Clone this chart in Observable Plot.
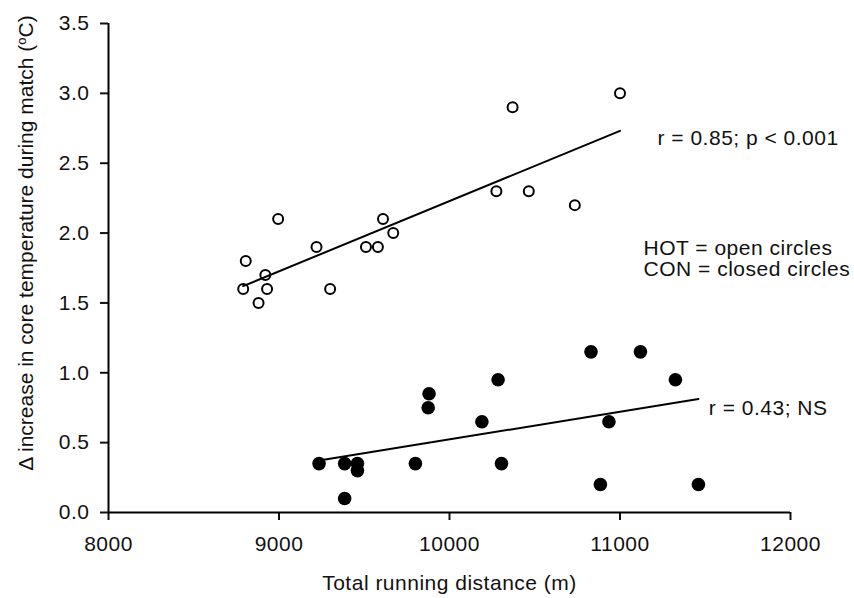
<!DOCTYPE html>
<html>
<head>
<meta charset="utf-8">
<script src="https://cdn.jsdelivr.net/npm/d3@7"></script>
<script src="https://cdn.jsdelivr.net/npm/@observablehq/plot@0.6"></script>
<style>
  html, body { margin: 0; padding: 0; background: #fff; }
  #chart svg text { letter-spacing: 0.5px; }
  #chart svg g[aria-label$="tick"] path, #chart svg .tick line { stroke-width: 2px; }
</style>
</head>
<body>
<div id="chart"></div>
<script>
// HOT condition (open circles)
const hotDistance = [11000, 10370, 10275, 10465, 10735, 8995, 9610, 9670, 9220, 9510, 9580, 8805, 8920, 8790, 8930, 9300, 8880];
const hotTemp     = [3.0, 2.9, 2.3, 2.3, 2.2, 2.1, 2.1, 2.0, 1.9, 1.9, 1.9, 1.8, 1.7, 1.6, 1.6, 1.6, 1.5];
// CON condition (closed circles)
const conDistance = [9235, 9385, 9460, 9460, 9385, 9800, 9880, 9875, 10190, 10285, 10305, 10830, 11120, 11325, 10935, 10885, 11460];
const conTemp     = [0.35, 0.35, 0.35, 0.3, 0.1, 0.35, 0.85, 0.75, 0.65, 0.95, 0.35, 1.15, 1.15, 0.95, 0.65, 0.2, 0.2];

const xTicks = [8000, 9000, 10000, 11000, 12000];
const yTicks = [0, 0.5, 1.0, 1.5, 2.0, 2.5, 3.0, 3.5];

const xLabel = "Total running distance (m)";
const yLabel = "Δ increase in core temperature during match (°C)";
const hotStat = "r = 0.85; p < 0.001";
const conStat = "r = 0.43; NS";
const legendLines = ["HOT = open circles", "CON = closed circles"];

const hot = hotDistance.map((d, i) => ({distance: d, temp: hotTemp[i]}));
const con = conDistance.map((d, i) => ({distance: d, temp: conTemp[i]}));

const plot = Plot.plot({
  width: 854,
  height: 598,
  marginLeft: 108,
  marginRight: 64,
  marginTop: 23,
  marginBottom: 86,
  style: {fontFamily: "'Liberation Sans', Arial, sans-serif", fontSize: "21px", color: "#111", background: "#fff"},
  x: {domain: [8000, 12000], ticks: xTicks, tickSize: 8, tickPadding: 16, tickFormat: d => String(d), label: null},
  y: {domain: [0, 3.5], ticks: yTicks, tickSize: 8, tickPadding: 11, tickFormat: d => d.toFixed(1), label: null},
  marks: [
    Plot.ruleX([8000], {stroke: "#000", strokeWidth: 2}),
    Plot.ruleY([0], {stroke: "#000", strokeWidth: 2}),
    Plot.linearRegressionY(hot, {x: "distance", y: "temp", ci: 0, stroke: "#000", strokeWidth: 2}),
    Plot.linearRegressionY(con, {x: "distance", y: "temp", ci: 0, stroke: "#000", strokeWidth: 2}),
    Plot.dot(hot, {x: "distance", y: "temp", r: 5, stroke: "#000", strokeWidth: 2, fill: "none"}),
    Plot.dot(con, {x: "distance", y: "temp", r: 6.8, fill: "#000", stroke: "none"}),
    Plot.text([hotStat], {x: () => 11220, y: () => 2.677, text: d => d, textAnchor: "start", lineAnchor: "middle", fill: "#111"}),
    Plot.text([legendLines.join("\n")], {x: () => 11138, y: () => 1.816, text: d => d, textAnchor: "start", lineAnchor: "middle", lineHeight: 1.0, fill: "#111"}),
    Plot.text([conStat], {x: () => 11521, y: () => 0.748, text: d => d, textAnchor: "start", lineAnchor: "middle", fill: "#111"}),
    Plot.text([xLabel], {frameAnchor: "bottom", dy: 71, text: d => d, textAnchor: "middle", lineAnchor: "middle", fill: "#111"}),
    Plot.text([yLabel], {frameAnchor: "left", rotate: -90, dx: -82, dy: -25, text: d => d, textAnchor: "middle", lineAnchor: "middle", fill: "#111"})
  ]
});

// Render the degree symbol as a superscript "o", as in the original figure
plot.querySelectorAll("text").forEach(t => {
  if (t.textContent === yLabel) {
    const [before, after] = yLabel.split("°");
    const ns = "http://www.w3.org/2000/svg";
    t.style.letterSpacing = "0px";
    t.textContent = before;
    const sup = document.createElementNS(ns, "tspan");
    sup.setAttribute("dy", "-7");
    sup.setAttribute("font-size", "13");
    sup.textContent = "o";
    const rest = document.createElementNS(ns, "tspan");
    rest.setAttribute("dy", "7");
    rest.textContent = after;
    t.appendChild(sup);
    t.appendChild(rest);
  }
});

document.getElementById("chart").appendChild(plot);
</script>
</body>
</html>
